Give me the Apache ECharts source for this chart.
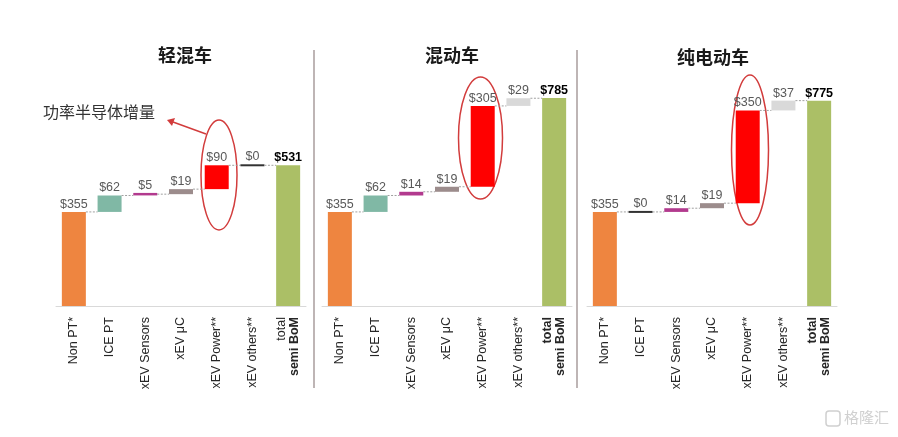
<!DOCTYPE html>
<html>
<head>
<meta charset="utf-8">
<script src="https://cdn.jsdelivr.net/npm/echarts@6/dist/echarts.min.js"></script>
<style>html,body{margin:0;padding:0;background:#fff}#c{width:898px;height:437px}</style>
</head>
<body>
<div id="c"></div>
<script>
// ---- data ----
const categories = ['Non PT*', 'ICE PT', 'xEV Sensors', 'xEV \u03bcC', 'xEV Power**', 'xEV others**', 'total\nsemi BoM'];
const panelTitles = ['轻混车', '混动车', '纯电动车'];
const mildHybrid = [355, 62, 5, 19, 90, 0, 531];
const fullHybrid = [355, 62, 14, 19, 305, 29, 785];
const batteryEV = [355, 0, 14, 19, 350, 37, 775];
const annotationText = '功率半导体增量';

// ---- styles ----
const barColors = ['#EE8540', '#80B8A5', '#B23A8E', '#9C8C8C', '#FF0000', '#D9D9D9', '#ABBF66'];
const zeroColor = '#333333';
const panels = [mildHybrid, fullHybrid, batteryEV];
const gridLefts = [56, 322, 587];
const FONT = '"Liberation Sans", Arial, sans-serif';

function buildData(vals) {
  const out = [];
  let cum = 0;
  for (let i = 0; i < vals.length; i++) {
    if (i === vals.length - 1) {
      out.push([i, 0, vals[i], vals[i]]);
    } else {
      out.push([i, cum, cum + vals[i], vals[i]]);
      cum += vals[i];
    }
  }
  return out;
}

function renderBar(params, api) {
  const i = api.value(0);
  const s = api.value(1), e = api.value(2), v = api.value(3);
  const p0 = api.coord([i, s]);
  const p1 = api.coord([i, e]);
  const w = 24;
  const x = p0[0] - w / 2;
  let top = Math.min(p0[1], p1[1]);
  let h = Math.abs(p0[1] - p1[1]);
  const isLast = i === categories.length - 1;
  let color = barColors[i];
  if (v === 0) { color = zeroColor; h = 2; top = p1[1] - 1; }
  else if (h < 2.5) { top = p1[1] - 1.25; h = 2.5; }
  const children = [{
    type: 'rect',
    shape: { x: x, y: top, width: w, height: h },
    style: { fill: color }
  }, {
    type: 'text',
    style: {
      text: '$' + v,
      x: p0[0], y: top - 1,
      textAlign: 'center', textVerticalAlign: 'bottom',
      fill: isLast ? '#000000' : '#595959',
      font: (isLast ? 'bold ' : '') + '12.5px ' + FONT
    }
  }];
  if (!isLast) {
    const q = api.coord([i + 1, e]);
    const yL = api.coord([i, e])[1];
    children.push({
      type: 'line',
      shape: { x1: x + w, y1: yL, x2: q[0] - w / 2, y2: yL },
      style: { stroke: '#A0A0A0', lineWidth: 1, lineDash: [2, 1.5] }
    });
  }
  return { type: 'group', children: children };
}

const grids = [], xAxes = [], yAxes = [], series = [];
panels.forEach((vals, k) => {
  grids.push({ left: gridLefts[k], width: 250, top: 41, bottom: 131 });
  xAxes.push({
    type: 'category', gridIndex: k, data: categories,
    axisLine: { lineStyle: { color: '#D9D9D9', width: 1 } },
    axisTick: { show: false },
    axisLabel: {
      rotate: 90, interval: 0, margin: 11, fontSize: 12.5, color: '#262626',
      fontFamily: FONT,
      formatter: function (val) {
        if (val.indexOf('total') === 0) {
          return (k === 0 ? '{n|total}' : '{b|total}') + '\n{b|semi BoM}';
        }
        return val;
      },
      rich: {
        n: { fontSize: 12.5, color: '#262626', fontFamily: FONT },
        b: { fontSize: 12.5, fontWeight: 'bold', color: '#262626', fontFamily: FONT }
      }
    }
  });
  yAxes.push({ type: 'value', gridIndex: k, min: 0, max: 1000, show: false, splitLine: { show: false } });
  const d = buildData(vals);
  series.push({
    type: 'custom', xAxisIndex: k, yAxisIndex: k,
    renderItem: renderBar, data: d, silent: true, animation: false,
    encode: { x: 0, y: [1, 2] }
  });
});

const titleStyle = { fontSize: 18, fontWeight: 'bold', color: '#1a1a1a', fontFamily: '"Noto Sans CJK SC"' };
const chart = echarts.init(document.getElementById('c'), null, { renderer: 'canvas' });
chart.setOption({
  animation: false,
  title: [
    { text: panelTitles[0], left: 180, top: 41, textAlign: 'center', textStyle: titleStyle },
    { text: panelTitles[1], left: 447, top: 41, textAlign: 'center', textStyle: titleStyle },
    { text: panelTitles[2], left: 708, top: 43, textAlign: 'center', textStyle: titleStyle }
  ],
  grid: grids, xAxis: xAxes, yAxis: yAxes, series: series,
  graphic: [
    { type: 'line', shape: { x1: 314, y1: 50, x2: 314, y2: 388 }, style: { stroke: '#A89C9C', lineWidth: 1.5 } },
    { type: 'line', shape: { x1: 577, y1: 50, x2: 577, y2: 388 }, style: { stroke: '#A89C9C', lineWidth: 1.5 } },
    { type: 'ellipse', shape: { cx: 219, cy: 175, rx: 18, ry: 55 }, style: { fill: 'none', stroke: '#D23C3C', lineWidth: 1.5 } },
    { type: 'ellipse', shape: { cx: 480.5, cy: 138, rx: 22, ry: 61 }, style: { fill: 'none', stroke: '#D23C3C', lineWidth: 1.5 } },
    { type: 'ellipse', shape: { cx: 750, cy: 150, rx: 18.5, ry: 75 }, style: { fill: 'none', stroke: '#D23C3C', lineWidth: 1.5 } },
    { type: 'line', shape: { x1: 206, y1: 134, x2: 173, y2: 122 }, style: { stroke: '#D23C3C', lineWidth: 1.5 } },
    { type: 'polygon', shape: { points: [[167, 120], [175, 118], [172, 126]] }, style: { fill: '#D23C3C' } },
    { type: 'text', left: 43, top: 104, style: { text: annotationText, font: '16px "Noto Sans CJK SC"', fill: '#333333' } },
    { type: 'rect', shape: { x: 826, y: 411, width: 14, height: 15, r: 3 }, style: { fill: 'none', stroke: '#D0D0D0', lineWidth: 1.5 } },
    { type: 'text', left: 844, top: 410, style: { text: '格隆汇', font: '15px "Noto Sans CJK SC"', fill: '#D0D0D0' } }
  ]
});
</script>
</body>
</html>
